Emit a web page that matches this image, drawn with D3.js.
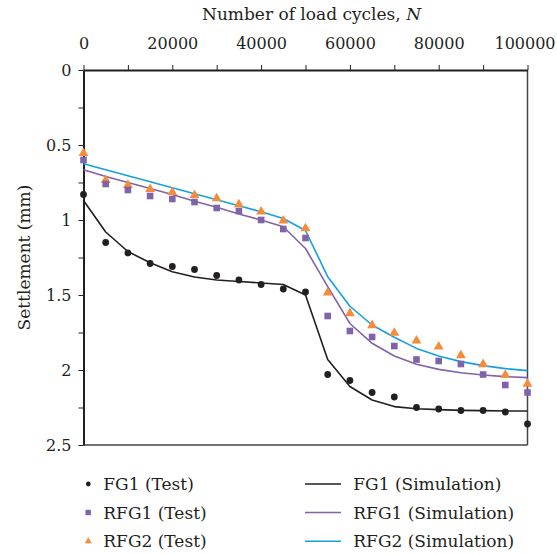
<!DOCTYPE html>
<html>
<head>
<meta charset="utf-8">
<script src="https://cdn.jsdelivr.net/npm/d3@7"></script>
<style>
  html, body { margin: 0; padding: 0; background: #fff; }
  svg { display: block; }
</style>
</head>
<body>
<svg id="chart" width="557" height="554"></svg>
<script>
// ---- data ----
const cycles = [0, 5000, 10000, 15000, 20000, 25000, 30000, 35000, 40000, 45000, 50000,
                55000, 60000, 65000, 70000, 75000, 80000, 85000, 90000, 95000, 100000];
const fg1Test  = [0.83, 1.15, 1.22, 1.29, 1.31, 1.33, 1.37, 1.40, 1.43, 1.46, 1.48,
                  2.03, 2.07, 2.15, 2.18, 2.25, 2.26, 2.27, 2.27, 2.28, 2.36];
const rfg1Test = [0.60, 0.76, 0.80, 0.84, 0.86, 0.88, 0.92, 0.94, 1.00, 1.06, 1.12,
                  1.64, 1.74, 1.78, 1.84, 1.93, 1.94, 1.96, 2.03, 2.10, 2.15];
const rfg2Test = [0.555, 0.735, 0.767, 0.795, 0.815, 0.835, 0.856, 0.896, 0.944, 1.004, 1.056,
                  1.484, 1.622, 1.702, 1.753, 1.804, 1.844, 1.902, 1.962, 2.033, 2.093];
const fg1Sim   = [0.87, 1.08, 1.21, 1.285, 1.345, 1.38, 1.40, 1.41, 1.42, 1.43, 1.50,
                  1.93, 2.11, 2.20, 2.244, 2.258, 2.264, 2.269, 2.271, 2.273, 2.273];
const rfg1Sim  = [0.665, 0.71, 0.75, 0.79, 0.83, 0.875, 0.915, 0.96, 1.0, 1.045, 1.19,
                  1.444, 1.69, 1.822, 1.907, 1.962, 1.996, 2.018, 2.033, 2.044, 2.051];
const rfg2Sim  = [0.625, 0.665, 0.705, 0.745, 0.785, 0.825, 0.865, 0.905, 0.945, 0.99, 1.07,
                  1.378, 1.575, 1.70, 1.782, 1.856, 1.907, 1.944, 1.971, 1.991, 2.004];
const xTicks = [0, 10000, 20000, 30000, 40000, 50000, 60000, 70000, 80000, 90000, 100000];
const xTickLabels = ["0", "20000", "40000", "60000", "80000", "100000"];
const yTicks = [0, 0.25, 0.5, 0.75, 1, 1.25, 1.5, 1.75, 2, 2.25, 2.5];
const yTickLabels = ["0", "0.5", "1", "1.5", "2", "2.5"];
const legendTest = ["FG1 (Test)", "RFG1 (Test)", "RFG2 (Test)"];
const legendSim = ["FG1 (Simulation)", "RFG1 (Simulation)", "RFG2 (Simulation)"];

// ---- styles ----
const C_BLACK = "#231f20", C_PURPLE = "#8064a8", C_ORANGE = "#f68b3b", C_BLUE = "#14a0e0";
const FONT = "DejaVu Serif";
const FS = 17, FS_TICK = 16;

const svg = d3.select("#chart");
const L = 83.5, R = 527.5, T = 70, B = 445;
const x = d3.scaleLinear().domain([0, 100000]).range([L, R]);
const y = d3.scaleLinear().domain([0, 2.5]).range([T, B]);

svg.append("line").attr("x1", R).attr("x2", R).attr("y1", T).attr("y2", B)
  .attr("stroke", "#444").attr("stroke-width", 1.5);
svg.append("line").attr("x1", L).attr("x2", R).attr("y1", B).attr("y2", B)
  .attr("stroke", "#444").attr("stroke-width", 1.5);

// top axis
const xAxis = d3.axisTop(x).tickValues(xTicks).tickSize(5).tickSizeOuter(0)
  .tickFormat(d => xTickLabels.includes(String(d)) ? String(d) : "");
const gx = svg.append("g").attr("transform", `translate(0,${T})`).call(xAxis)
  .attr("font-family", FONT).attr("font-size", FS_TICK);
gx.select(".domain").attr("stroke", C_BLACK).attr("stroke-width", 2);
gx.selectAll(".tick line").attr("stroke", C_BLACK).attr("stroke-width", 1);
gx.selectAll(".tick text").attr("fill", C_BLACK).attr("y", -21).attr("dy", 0)
  .attr("x", d => d === 100000 ? -3 : 0);

// left axis
const yAxis = d3.axisLeft(y).tickValues(yTicks).tickSize(5).tickSizeOuter(0)
  .tickFormat(d => yTickLabels.includes(String(d)) ? String(d) : "");
const gy = svg.append("g").attr("transform", `translate(${L},0)`).call(yAxis)
  .attr("font-family", FONT).attr("font-size", FS_TICK);
gy.select(".domain").attr("stroke", C_BLACK).attr("stroke-width", 2);
gy.selectAll(".tick line").attr("stroke", C_BLACK).attr("stroke-width", 1);
gy.selectAll(".tick text").attr("fill", C_BLACK).attr("x", -12).attr("dy", "0.36em");

// titles
const xt = svg.append("text").attr("x", (L + R) / 2 + 6).attr("y", 20)
  .attr("text-anchor", "middle").attr("font-size", FS).attr("font-family", FONT).attr("fill", C_BLACK);
xt.append("tspan").text("Number of load cycles, ");
xt.append("tspan").attr("font-style", "italic").text("N");

svg.append("text").attr("transform", `translate(30,${(T + B) / 2}) rotate(-90)`)
  .attr("text-anchor", "middle").attr("font-size", FS).attr("font-family", FONT)
  .attr("fill", C_BLACK).text("Settlement (mm)");

// simulation lines
const line = d3.line().x((d, i) => x(cycles[i])).y(d => y(d));
[[fg1Sim, C_BLACK], [rfg1Sim, C_PURPLE], [rfg2Sim, C_BLUE]].forEach(([vals, col]) => {
  svg.append("path").datum(vals).attr("d", line).attr("fill", "none")
    .attr("stroke", col).attr("stroke-width", 1.6).attr("stroke-linejoin", "round");
});

// test markers
const tri = d3.symbol().type(d3.symbolTriangle).size(42);
svg.append("g").selectAll("path").data(rfg2Test).join("path")
  .attr("d", tri).attr("fill", C_ORANGE)
  .attr("transform", (d, i) => `translate(${x(cycles[i])},${y(d)})`);
svg.append("g").selectAll("rect").data(rfg1Test).join("rect")
  .attr("x", (d, i) => x(cycles[i]) - 3.3).attr("y", d => y(d) - 3.3)
  .attr("width", 6.6).attr("height", 6.6).attr("fill", C_PURPLE);
svg.append("g").selectAll("circle").data(fg1Test).join("circle")
  .attr("cx", (d, i) => x(cycles[i])).attr("cy", d => y(d)).attr("r", 3.4)
  .attr("fill", C_BLACK);

// legend
const rowsY = [484, 512.5, 541.3];
const lg = svg.append("g").attr("font-family", FONT).attr("font-size", FS).attr("fill", C_BLACK);
lg.append("circle").attr("cx", 88.3).attr("cy", rowsY[0]).attr("r", 2.4).attr("fill", C_BLACK);
lg.append("rect").attr("x", 85.5).attr("y", rowsY[1] - 2.7).attr("width", 5.4).attr("height", 5.4).attr("fill", C_PURPLE);
lg.append("path").attr("d", d3.symbol().type(d3.symbolTriangle).size(22))
  .attr("transform", `translate(88.3,${rowsY[2]})`).attr("fill", C_ORANGE);
legendTest.forEach((t, i) => {
  lg.append("text").attr("x", 103.3).attr("y", rowsY[i]).attr("dy", "0.36em").text(t);
});
[C_BLACK, C_PURPLE, C_BLUE].forEach((c, i) => {
  lg.append("line").attr("x1", 305).attr("x2", 341).attr("y1", rowsY[i]).attr("y2", rowsY[i])
    .attr("stroke", c).attr("stroke-width", 1.4);
});
legendSim.forEach((t, i) => {
  lg.append("text").attr("x", 353.3).attr("y", rowsY[i]).attr("dy", "0.36em").text(t);
});
</script>
</body>
</html>
